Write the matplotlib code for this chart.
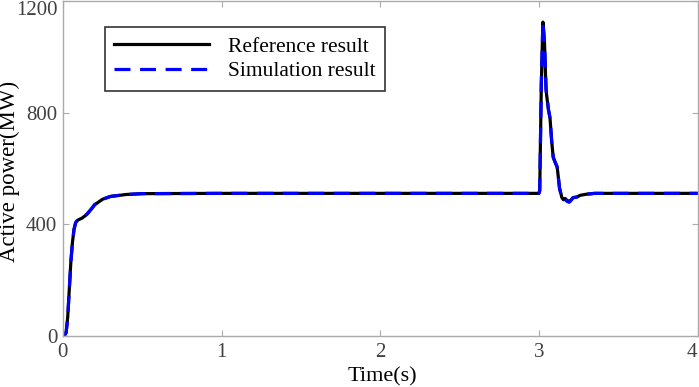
import matplotlib
matplotlib.use('Agg')
import matplotlib.pyplot as plt

# reference (black solid) and simulation (blue dashed) active power, MW
t_ref = [0.0, 0.01, 0.02, 0.03, 0.04, 0.05, 0.06, 0.07, 0.08, 0.09, 0.10, 0.12,
         0.15, 0.18, 0.20, 0.25, 0.30, 0.40, 0.50, 1.0, 2.0, 3.0, 3.005, 3.015,
         3.025, 3.035, 3.045, 3.06, 3.07, 3.08, 3.09, 3.10, 3.115, 3.13, 3.145,
         3.155, 3.165, 3.175, 3.19, 3.20, 3.215, 3.24, 3.26, 3.30, 3.35, 4.0]
p_ref = [0, 2, 12, 65, 165, 265, 335, 382, 405, 413, 417, 422,
         435, 455, 470, 490, 500, 507, 510, 511, 511, 511, 520, 900,
         1125, 1050, 880, 810, 780, 700, 640, 625, 605, 530, 495,
         488, 493, 487, 482, 486, 496, 498, 504, 508, 511, 511]

t_sim = t_ref
p_sim = [0, 2, 11, 63, 163, 264, 334, 382, 406, 414, 418, 423,
         436, 456, 471, 490, 500, 507, 510, 511, 511, 511, 522, 905,
         1130, 1055, 885, 812, 782, 702, 642, 626, 606, 528, 492,
         486, 490, 483, 479, 484, 495, 498, 504, 508, 511, 511]

x_ticks = [0, 1, 2, 3, 4]
y_ticks = [0, 400, 800, 1200]

plt.rcParams['font.family'] = ['Liberation Serif', 'DejaVu Serif']

fig = plt.figure(figsize=(6.99, 3.87), dpi=100)
ax = fig.add_axes([0.09, 0.132, 0.908, 0.865])

ax.plot(t_ref, p_ref, color='black', lw=2.3, label='Reference result')
ax.plot(t_sim, p_sim, color='blue', lw=2.3, ls=(0, (5, 3)), label='Simulation result')

ax.set_xlim(0, 4)
ax.set_ylim(0, 1200)
ax.set_xticks(x_ticks)
ax.set_yticks(y_ticks)
ax.tick_params(direction='in', top=True, right=True, labelsize=15,
               labelcolor='#404040', color='#aaaaaa', length=4)
ax.tick_params(axis='y', pad=4)
ax.tick_params(axis='x', pad=5)
for s in ax.spines.values():
    s.set_color('#aaaaaa')
    s.set_linewidth(1.0)

# keep the edge labels inside the picture, like the original
ax.get_yticklabels()[-1].set_va('top')
ax.get_xticklabels()[-1].set_ha('right')

ax.set_xlabel('Time(s)', fontsize=16)
ax.set_ylabel('Active power(MW)', fontsize=16.5)
ax.xaxis.set_label_coords(0.504, -0.095)
ax.yaxis.set_label_coords(-0.068, 0.49)

leg = ax.legend(loc='upper left', bbox_to_anchor=(0.066, 0.922), fontsize=15.5,
                frameon=True, fancybox=False, handlelength=4.4, borderpad=0.45,
                labelspacing=0.2, handletextpad=0.85, borderaxespad=0)
leg.get_frame().set_edgecolor('black')
leg.get_frame().set_linewidth(1.2)

fig.savefig('out.png', dpi=100, facecolor='white')
